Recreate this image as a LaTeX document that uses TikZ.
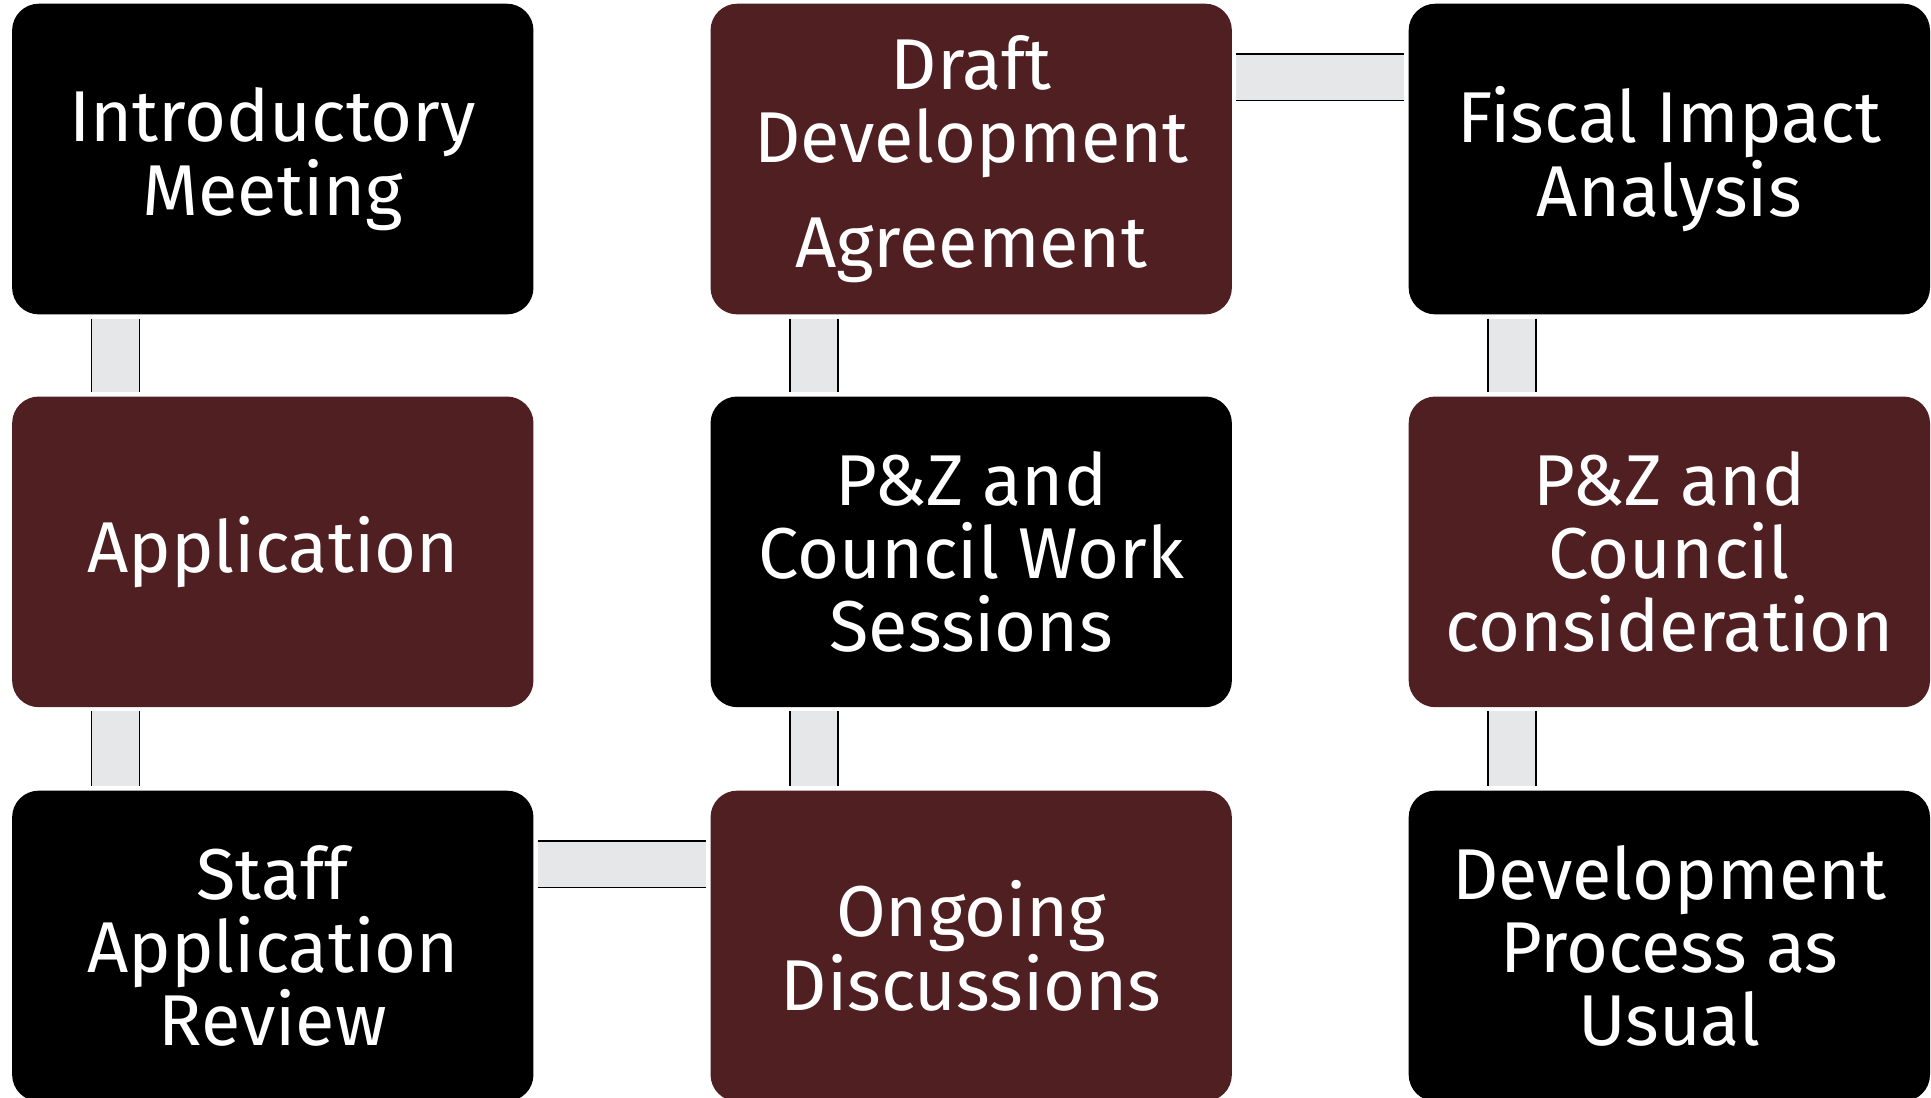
\documentclass[tikz,border=0pt]{standalone}
\usepackage{fontspec}
\setmainfont{Fira Sans}
\definecolor{stagemaroon}{RGB}{80,31,33}
\definecolor{connfill}{RGB}{230,231,232}
\tikzset{
  stage/.style={rectangle, rounded corners=20pt, minimum width=391pt, minimum height=233pt,
    text=white, align=center, font=\fontsize{54}{55}\selectfont, inner sep=0pt},
  blackstage/.style={stage, fill=black},
  redstage/.style={stage, fill=stagemaroon},
  connline/.style={draw=black, line width=1pt}
}
\newcommand\vlink[2]{%
  \fill[connfill] ([xshift=59.8pt,yshift=-3pt]#1.south west) rectangle ([xshift=95.8pt,yshift=3pt]#2.north west);
  \draw[connline] ([xshift=59.8pt,yshift=-3pt]#1.south west) -- ([xshift=59.8pt,yshift=3pt]#2.north west);
  \draw[connline] ([xshift=95.8pt,yshift=-3pt]#1.south west) -- ([xshift=95.8pt,yshift=3pt]#2.north west);
}
\newcommand\hlink[2]{%
  \fill[connfill] ([xshift=3pt,yshift=-38pt]#1.north east) rectangle ([xshift=-3pt,yshift=-73pt]#2.north west);
  \draw[connline] ([xshift=3pt,yshift=-38pt]#1.north east) -- ([xshift=-3pt,yshift=-38pt]#2.north west);
  \draw[connline] ([xshift=3pt,yshift=-73pt]#1.north east) -- ([xshift=-3pt,yshift=-73pt]#2.north west);
}
\begin{document}
\begin{tikzpicture}[x=1pt,y=1pt]
\useasboundingbox (0,0) rectangle (1448.25,823.5);
\clip (0,0) rectangle (1448.25,823.5);
\node[blackstage] (intro) at (204.6,704.2) {Introductory\\Meeting};
\node[redstage] (draft) at (728.4,704.2) {Draft\\Development\\[24pt]Agreement};
\node[blackstage] (fiscal) at (1252,704.2) {Fiscal Impact\\Analysis};
\node[redstage] (app) at (204.6,409.6) {Application};
\node[blackstage] (work) at (728.4,409.6) {P\&Z and\\Council Work\\Sessions};
\node[redstage] (consid) at (1252,409.6) {P\&Z and\\Council\\consideration};
\node[blackstage] (staff) at (204.6,114) {Staff\\Application\\Review};
\node[redstage] (ongoing) at (728.4,114) {Ongoing\\Discussions};
\node[blackstage] (usual) at (1252,114) {Development\\Process as\\Usual};
\vlink{intro}{app}
\vlink{app}{staff}
\hlink{staff}{ongoing}
\vlink{work}{ongoing}
\vlink{draft}{work}
\hlink{draft}{fiscal}
\vlink{fiscal}{consid}
\vlink{consid}{usual}
\end{tikzpicture}
\end{document}
